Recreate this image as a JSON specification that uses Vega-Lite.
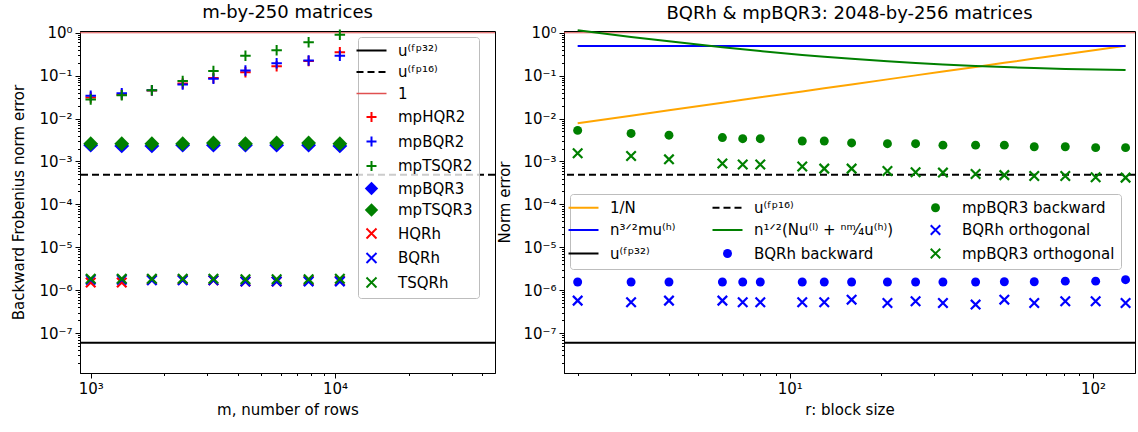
{
  "$schema": "https://vega.github.io/schema/vega-lite/v6.json",
  "padding": {"left": 11, "top": 3, "right": 0, "bottom": 0},
  "background": "white",
  "spacing": 0,
  "config": {
    "font": "DejaVu Sans",
    "view": {"stroke": "black", "strokeWidth": 1},
    "axis": {"grid": false, "domainColor": "black", "tickColor": "black", "labelColor": "black", "titleColor": "black", "labelFontSize": 15, "titleFontSize": 15, "titleFontWeight": "normal", "labelFont": "DejaVu Sans", "titleFont": "DejaVu Sans", "labelOverlap": false, "labelFlush": false, "labelBound": false, "labelPadding": 3, "domainWidth": 1, "tickWidth": 1},
    "title": {"fontSize": 18, "fontWeight": "normal", "font": "DejaVu Sans", "color": "black", "offset": 3},
    "legend": {"labelFont": "DejaVu Sans", "labelFontSize": 15, "labelColor": "black", "fillColor": "rgba(255,255,255,0.8)", "strokeColor": "#bdbdbd", "strokeWidth": 1, "padding": 6, "cornerRadius": 3, "symbolSize": 400, "labelOffset": 19, "gridAlign": "each"}
  },
  "datasets": {
    "leftRules": [{"series": "ufp32", "err": 5.96e-8}, {"series": "ufp16", "err": 4.88e-4}],
    "leftOne": [{"series": "one", "err": 1}],
    "leftPlus": [
      {"series": "mpHQR2", "m": 1000, "err": 0.031}, {"series": "mpHQR2", "m": 1340, "err": 0.036}, {"series": "mpHQR2", "m": 1780, "err": 0.045}, {"series": "mpHQR2", "m": 2380, "err": 0.066}, {"series": "mpHQR2", "m": 3180, "err": 0.088}, {"series": "mpHQR2", "m": 4300, "err": 0.12}, {"series": "mpHQR2", "m": 5770, "err": 0.165}, {"series": "mpHQR2", "m": 7800, "err": 0.22}, {"series": "mpHQR2", "m": 10470, "err": 0.35},
      {"series": "mpBQR2", "m": 1000, "err": 0.034}, {"series": "mpBQR2", "m": 1340, "err": 0.039}, {"series": "mpBQR2", "m": 1780, "err": 0.046}, {"series": "mpBQR2", "m": 2380, "err": 0.062}, {"series": "mpBQR2", "m": 3180, "err": 0.085}, {"series": "mpBQR2", "m": 4300, "err": 0.132}, {"series": "mpBQR2", "m": 5770, "err": 0.195}, {"series": "mpBQR2", "m": 7800, "err": 0.225}, {"series": "mpBQR2", "m": 10470, "err": 0.29},
      {"series": "mpTSQR2", "m": 1000, "err": 0.028}, {"series": "mpTSQR2", "m": 1340, "err": 0.035}, {"series": "mpTSQR2", "m": 1780, "err": 0.046}, {"series": "mpTSQR2", "m": 2380, "err": 0.075}, {"series": "mpTSQR2", "m": 3180, "err": 0.128}, {"series": "mpTSQR2", "m": 4300, "err": 0.29}, {"series": "mpTSQR2", "m": 5770, "err": 0.39}, {"series": "mpTSQR2", "m": 7800, "err": 0.6}, {"series": "mpTSQR2", "m": 10470, "err": 0.9}
    ],
    "leftDiamond": [
      {"series": "mpBQR3", "m": 1000, "err": 0.0024}, {"series": "mpBQR3", "m": 1340, "err": 0.0023}, {"series": "mpBQR3", "m": 1780, "err": 0.0023}, {"series": "mpBQR3", "m": 2380, "err": 0.0024}, {"series": "mpBQR3", "m": 3180, "err": 0.0024}, {"series": "mpBQR3", "m": 4300, "err": 0.0024}, {"series": "mpBQR3", "m": 5770, "err": 0.0024}, {"series": "mpBQR3", "m": 7800, "err": 0.0024}, {"series": "mpBQR3", "m": 10470, "err": 0.0023},
      {"series": "mpTSQR3", "m": 1000, "err": 0.0026}, {"series": "mpTSQR3", "m": 1340, "err": 0.0026}, {"series": "mpTSQR3", "m": 1780, "err": 0.0026}, {"series": "mpTSQR3", "m": 2380, "err": 0.0026}, {"series": "mpTSQR3", "m": 3180, "err": 0.0027}, {"series": "mpTSQR3", "m": 4300, "err": 0.0026}, {"series": "mpTSQR3", "m": 5770, "err": 0.0027}, {"series": "mpTSQR3", "m": 7800, "err": 0.0027}, {"series": "mpTSQR3", "m": 10470, "err": 0.0026}
    ],
    "leftX": [
      {"series": "HQRh", "m": 1000, "err": 1.5e-6}, {"series": "HQRh", "m": 1340, "err": 1.5e-6}, {"series": "HQRh", "m": 1780, "err": 1.75e-6}, {"series": "HQRh", "m": 2380, "err": 1.75e-6}, {"series": "HQRh", "m": 3180, "err": 1.7e-6}, {"series": "HQRh", "m": 4300, "err": 1.6e-6}, {"series": "HQRh", "m": 5770, "err": 1.6e-6}, {"series": "HQRh", "m": 7800, "err": 1.65e-6}, {"series": "HQRh", "m": 10470, "err": 1.65e-6},
      {"series": "BQRh", "m": 1000, "err": 1.75e-6}, {"series": "BQRh", "m": 1340, "err": 1.75e-6}, {"series": "BQRh", "m": 1780, "err": 1.7e-6}, {"series": "BQRh", "m": 2380, "err": 1.7e-6}, {"series": "BQRh", "m": 3180, "err": 1.7e-6}, {"series": "BQRh", "m": 4300, "err": 1.6e-6}, {"series": "BQRh", "m": 5770, "err": 1.6e-6}, {"series": "BQRh", "m": 7800, "err": 1.6e-6}, {"series": "BQRh", "m": 10470, "err": 1.6e-6},
      {"series": "TSQRh", "m": 1000, "err": 1.85e-6}, {"series": "TSQRh", "m": 1340, "err": 1.85e-6}, {"series": "TSQRh", "m": 1780, "err": 1.85e-6}, {"series": "TSQRh", "m": 2380, "err": 1.85e-6}, {"series": "TSQRh", "m": 3180, "err": 1.85e-6}, {"series": "TSQRh", "m": 4300, "err": 1.8e-6}, {"series": "TSQRh", "m": 5770, "err": 1.8e-6}, {"series": "TSQRh", "m": 7800, "err": 1.8e-6}, {"series": "TSQRh", "m": 10470, "err": 1.85e-6}
    ],
    "rightRules": [{"series": "ufp16", "v": 4.88e-4}, {"series": "ufp32", "v": 5.96e-8}],
    "rightOne": [{"v": 1}],
    "rightLines": [
      {"series": "invN", "r": 2, "v": 0.0078}, {"series": "invN", "r": 3, "v": 0.0117}, {"series": "invN", "r": 4, "v": 0.0156}, {"series": "invN", "r": 6, "v": 0.0234}, {"series": "invN", "r": 7, "v": 0.0273}, {"series": "invN", "r": 8, "v": 0.0313}, {"series": "invN", "r": 11, "v": 0.043}, {"series": "invN", "r": 13, "v": 0.0508}, {"series": "invN", "r": 16, "v": 0.0625}, {"series": "invN", "r": 21, "v": 0.082}, {"series": "invN", "r": 26, "v": 0.1016}, {"series": "invN", "r": 32, "v": 0.125}, {"series": "invN", "r": 41, "v": 0.16}, {"series": "invN", "r": 51, "v": 0.199}, {"series": "invN", "r": 64, "v": 0.25}, {"series": "invN", "r": 81, "v": 0.316}, {"series": "invN", "r": 102, "v": 0.398}, {"series": "invN", "r": 128, "v": 0.5},
      {"series": "n32mu", "r": 2, "v": 0.49}, {"series": "n32mu", "r": 128, "v": 0.49},
      {"series": "bound", "r": 2, "v": 1.143}, {"series": "bound", "r": 3, "v": 0.802}, {"series": "bound", "r": 4, "v": 0.631}, {"series": "bound", "r": 6, "v": 0.46}, {"series": "bound", "r": 7, "v": 0.412}, {"series": "bound", "r": 8, "v": 0.375}, {"series": "bound", "r": 11, "v": 0.305}, {"series": "bound", "r": 13, "v": 0.277}, {"series": "bound", "r": 16, "v": 0.247}, {"series": "bound", "r": 21, "v": 0.217}, {"series": "bound", "r": 26, "v": 0.198}, {"series": "bound", "r": 32, "v": 0.183}, {"series": "bound", "r": 41, "v": 0.169}, {"series": "bound", "r": 51, "v": 0.159}, {"series": "bound", "r": 64, "v": 0.151}, {"series": "bound", "r": 81, "v": 0.144}, {"series": "bound", "r": 102, "v": 0.139}, {"series": "bound", "r": 128, "v": 0.135}
    ],
    "rightCircles": [
      {"series": "BQRh backward", "r": 2, "v": 1.55e-6}, {"series": "BQRh backward", "r": 3, "v": 1.55e-6}, {"series": "BQRh backward", "r": 4, "v": 1.55e-6}, {"series": "BQRh backward", "r": 6, "v": 1.55e-6}, {"series": "BQRh backward", "r": 7, "v": 1.55e-6}, {"series": "BQRh backward", "r": 8, "v": 1.55e-6}, {"series": "BQRh backward", "r": 11, "v": 1.55e-6}, {"series": "BQRh backward", "r": 13, "v": 1.55e-6}, {"series": "BQRh backward", "r": 16, "v": 1.55e-6}, {"series": "BQRh backward", "r": 21, "v": 1.55e-6}, {"series": "BQRh backward", "r": 26, "v": 1.55e-6}, {"series": "BQRh backward", "r": 32, "v": 1.55e-6}, {"series": "BQRh backward", "r": 41, "v": 1.55e-6}, {"series": "BQRh backward", "r": 51, "v": 1.57e-6}, {"series": "BQRh backward", "r": 64, "v": 1.57e-6}, {"series": "BQRh backward", "r": 81, "v": 1.62e-6}, {"series": "BQRh backward", "r": 102, "v": 1.62e-6}, {"series": "BQRh backward", "r": 128, "v": 1.75e-6},
      {"series": "mpBQR3 backward", "r": 2, "v": 0.0053}, {"series": "mpBQR3 backward", "r": 3, "v": 0.0045}, {"series": "mpBQR3 backward", "r": 4, "v": 0.0041}, {"series": "mpBQR3 backward", "r": 6, "v": 0.0036}, {"series": "mpBQR3 backward", "r": 7, "v": 0.0034}, {"series": "mpBQR3 backward", "r": 8, "v": 0.0034}, {"series": "mpBQR3 backward", "r": 11, "v": 0.003}, {"series": "mpBQR3 backward", "r": 13, "v": 0.003}, {"series": "mpBQR3 backward", "r": 16, "v": 0.0027}, {"series": "mpBQR3 backward", "r": 21, "v": 0.0026}, {"series": "mpBQR3 backward", "r": 26, "v": 0.0026}, {"series": "mpBQR3 backward", "r": 32, "v": 0.0024}, {"series": "mpBQR3 backward", "r": 41, "v": 0.0024}, {"series": "mpBQR3 backward", "r": 51, "v": 0.0024}, {"series": "mpBQR3 backward", "r": 64, "v": 0.0022}, {"series": "mpBQR3 backward", "r": 81, "v": 0.0022}, {"series": "mpBQR3 backward", "r": 102, "v": 0.0021}, {"series": "mpBQR3 backward", "r": 128, "v": 0.0021}
    ],
    "rightX": [
      {"series": "BQRh orthogonal", "r": 2, "v": 5.7e-7}, {"series": "BQRh orthogonal", "r": 3, "v": 5.2e-7}, {"series": "BQRh orthogonal", "r": 4, "v": 5.7e-7}, {"series": "BQRh orthogonal", "r": 6, "v": 5.7e-7}, {"series": "BQRh orthogonal", "r": 7, "v": 5.2e-7}, {"series": "BQRh orthogonal", "r": 8, "v": 5.2e-7}, {"series": "BQRh orthogonal", "r": 11, "v": 5.2e-7}, {"series": "BQRh orthogonal", "r": 13, "v": 5.2e-7}, {"series": "BQRh orthogonal", "r": 16, "v": 6.0e-7}, {"series": "BQRh orthogonal", "r": 21, "v": 5.0e-7}, {"series": "BQRh orthogonal", "r": 26, "v": 5.5e-7}, {"series": "BQRh orthogonal", "r": 32, "v": 5.0e-7}, {"series": "BQRh orthogonal", "r": 41, "v": 4.6e-7}, {"series": "BQRh orthogonal", "r": 51, "v": 6.0e-7}, {"series": "BQRh orthogonal", "r": 64, "v": 5.0e-7}, {"series": "BQRh orthogonal", "r": 81, "v": 5.5e-7}, {"series": "BQRh orthogonal", "r": 102, "v": 5.5e-7}, {"series": "BQRh orthogonal", "r": 128, "v": 5.0e-7},
      {"series": "mpBQR3 orthogonal", "r": 2, "v": 0.00155}, {"series": "mpBQR3 orthogonal", "r": 3, "v": 0.00134}, {"series": "mpBQR3 orthogonal", "r": 4, "v": 0.00112}, {"series": "mpBQR3 orthogonal", "r": 6, "v": 0.0009}, {"series": "mpBQR3 orthogonal", "r": 7, "v": 0.00085}, {"series": "mpBQR3 orthogonal", "r": 8, "v": 0.00085}, {"series": "mpBQR3 orthogonal", "r": 11, "v": 0.00076}, {"series": "mpBQR3 orthogonal", "r": 13, "v": 0.00068}, {"series": "mpBQR3 orthogonal", "r": 16, "v": 0.00068}, {"series": "mpBQR3 orthogonal", "r": 21, "v": 0.0006}, {"series": "mpBQR3 orthogonal", "r": 26, "v": 0.00056}, {"series": "mpBQR3 orthogonal", "r": 32, "v": 0.00055}, {"series": "mpBQR3 orthogonal", "r": 41, "v": 0.00051}, {"series": "mpBQR3 orthogonal", "r": 51, "v": 0.00048}, {"series": "mpBQR3 orthogonal", "r": 64, "v": 0.00046}, {"series": "mpBQR3 orthogonal", "r": 81, "v": 0.00046}, {"series": "mpBQR3 orthogonal", "r": 102, "v": 0.00043}, {"series": "mpBQR3 orthogonal", "r": 128, "v": 0.00042}
    ]
  },
  "resolve": {"scale": {"color": "independent", "strokeDash": "independent", "x": "independent", "y": "independent"}, "legend": {"color": "independent"}},
  "hconcat": [
    {
      "width": 415,
      "height": 342,
      "title": {"text": "m-by-250 matrices"},
      "encoding": {
        "y": {"field": "err", "type": "quantitative", "scale": {"type": "log", "domain": [1.17e-8, 1.1], "nice": false},
          "axis": {"title": "Backward Frobenius norm error", "titlePadding": 12,
            "values": [2e-8,3e-8,4e-8,5e-8,6e-8,7e-8,8e-8,9e-8,1e-7,2e-7,3e-7,4e-7,5e-7,6e-7,7e-7,8e-7,9e-7,1e-6,2e-6,3e-6,4e-6,5e-6,6e-6,7e-6,8e-6,9e-6,1e-5,2e-5,3e-5,4e-5,5e-5,6e-5,7e-5,8e-5,9e-5,1e-4,2e-4,3e-4,4e-4,5e-4,6e-4,7e-4,8e-4,9e-4,1e-3,2e-3,3e-3,4e-3,5e-3,6e-3,7e-3,8e-3,9e-3,1e-2,2e-2,3e-2,4e-2,5e-2,6e-2,7e-2,8e-2,9e-2,0.1,0.2,0.3,0.4,0.5,0.6,0.7,0.8,0.9,1],
            "labelExpr": "abs(log(datum.value)/LN10 - round(log(datum.value)/LN10)) < 0.01 ? ({'0':'10⁰','-1':'10⁻¹','-2':'10⁻²','-3':'10⁻³','-4':'10⁻⁴','-5':'10⁻⁵','-6':'10⁻⁶','-7':'10⁻⁷'})['' + round(log(datum.value)/LN10)] : ''",
            "tickSize": {"condition": {"test": "abs(log(datum.value)/LN10 - round(log(datum.value)/LN10)) < 0.01", "value": 5}, "value": 2.5}}},
        "color": {"field": "series", "type": "nominal",
          "scale": {"domain": ["ufp32","ufp16","one","mpHQR2","mpBQR2","mpTSQR2","mpBQR3","mpTSQR3","HQRh","BQRh","TSQRh"], "range": ["#000000","#000000","#e05050","#ff0000","#0000ff","#008000","#0000ff","#008000","#ff0000","#0000ff","#008000"]},
          "legend": {"title": null, "orient": "none", "legendX": 278, "legendY": 6, "rowPadding": 5.5, "fillColor": "rgba(255,255,255,0.8)", "strokeColor": "#bdbdbd",
            "labelExpr": "({'ufp32':'u⁽ᶠᵖ³²⁾','ufp16':'u⁽ᶠᵖ¹⁶⁾','one':'1'})[datum.value] || datum.value",
            "encode": {"symbols": {"update": {
              "shape": {"signal": "indexof(['ufp32','ufp16','one'], datum.value) >= 0 ? 'stroke' : indexof(['mpHQR2','mpBQR2','mpTSQR2'], datum.value) >= 0 ? 'M-1,0L1,0M0,-1L0,1' : indexof(['mpBQR3','mpTSQR3'], datum.value) >= 0 ? 'diamond' : 'M-1,-1L1,1M1,-1L-1,1'"},
              "size": {"signal": "indexof(['ufp32','ufp16','one'], datum.value) >= 0 ? 900 : indexof(['mpBQR3','mpTSQR3'], datum.value) >= 0 ? 180 : 100"},
              "stroke": {"signal": "indexof(['ufp32','ufp16'], datum.value) >= 0 ? '#000000' : datum.value == 'one' ? '#f06060' : indexof(['mpHQR2','HQRh'], datum.value) >= 0 ? '#ff0000' : indexof(['mpBQR2','mpBQR3','BQRh'], datum.value) >= 0 ? '#0000ff' : '#008000'"},
              "fill": {"signal": "datum.value == 'mpBQR3' ? '#0000ff' : datum.value == 'mpTSQR3' ? '#008000' : 'transparent'"},
              "strokeWidth": {"signal": "datum.value == 'one' ? 1.5 : indexof(['mpBQR3','mpTSQR3'], datum.value) >= 0 ? 0 : 2"},
              "strokeDash": {"signal": "datum.value == 'ufp16' ? [7,4] : [1,0]"},
              "opacity": {"value": 1}
            }}}}}
      },
      "layer": [
        {"data": {"name": "leftRules"}, "mark": {"type": "rule", "strokeWidth": 2},
          "encoding": {"strokeDash": {"field": "series", "type": "nominal", "scale": {"domain": ["ufp32","ufp16"], "range": [[1,0],[7,4]]}, "legend": null}}},
        {"data": {"name": "leftOne"}, "mark": {"type": "rule", "strokeWidth": 1}, "encoding": {}},
        {"data": {"name": "leftPlus"}, "mark": {"type": "point", "shape": "M-1,0L1,0M0,-1L0,1", "filled": false, "size": 110, "strokeWidth": 2, "opacity": 1},
          "encoding": {"x": {"field": "m", "type": "quantitative", "scale": {"type": "log", "domain": [904, 45200], "nice": false},
            "axis": {"title": "m, number of rows", "titlePadding": 6, "values": [1000,2000,3000,4000,5000,6000,7000,8000,9000,10000,20000,30000,40000],
              "labelExpr": "datum.value == 1000 ? '10³' : datum.value == 10000 ? '10⁴' : ''",
              "tickSize": {"condition": {"test": "datum.value == 1000 || datum.value == 10000", "value": 5}, "value": 2.5}}}}},
        {"data": {"name": "leftDiamond"}, "mark": {"type": "point", "shape": "diamond", "filled": true, "size": 220, "opacity": 1},
          "encoding": {"x": {"field": "m", "type": "quantitative", "scale": {"type": "log", "domain": [904, 45200], "nice": false}}}},
        {"data": {"name": "leftX"}, "mark": {"type": "point", "shape": "M-1,-1L1,1M1,-1L-1,1", "filled": false, "size": 90, "strokeWidth": 2.2, "opacity": 1},
          "encoding": {"x": {"field": "m", "type": "quantitative", "scale": {"type": "log", "domain": [904, 45200], "nice": false}}}}
      ]
    },
    {
      "width": 571,
      "height": 342,
      "title": {"text": "BQRh & mpBQR3: 2048-by-256 matrices"},
      "encoding": {
        "y": {"field": "v", "type": "quantitative", "scale": {"type": "log", "domain": [1.17e-8, 1.1], "nice": false},
          "axis": {"title": "Norm error", "titlePadding": 10,
            "values": [2e-8,3e-8,4e-8,5e-8,6e-8,7e-8,8e-8,9e-8,1e-7,2e-7,3e-7,4e-7,5e-7,6e-7,7e-7,8e-7,9e-7,1e-6,2e-6,3e-6,4e-6,5e-6,6e-6,7e-6,8e-6,9e-6,1e-5,2e-5,3e-5,4e-5,5e-5,6e-5,7e-5,8e-5,9e-5,1e-4,2e-4,3e-4,4e-4,5e-4,6e-4,7e-4,8e-4,9e-4,1e-3,2e-3,3e-3,4e-3,5e-3,6e-3,7e-3,8e-3,9e-3,1e-2,2e-2,3e-2,4e-2,5e-2,6e-2,7e-2,8e-2,9e-2,0.1,0.2,0.3,0.4,0.5,0.6,0.7,0.8,0.9,1],
            "labelExpr": "abs(log(datum.value)/LN10 - round(log(datum.value)/LN10)) < 0.01 ? ({'0':'10⁰','-1':'10⁻¹','-2':'10⁻²','-3':'10⁻³','-4':'10⁻⁴','-5':'10⁻⁵','-6':'10⁻⁶','-7':'10⁻⁷'})['' + round(log(datum.value)/LN10)] : ''",
            "tickSize": {"condition": {"test": "abs(log(datum.value)/LN10 - round(log(datum.value)/LN10)) < 0.01", "value": 5}, "value": 2.5}}},
        "color": {"field": "series", "type": "nominal",
          "scale": {"domain": ["invN","n32mu","ufp32","ufp16","bound","BQRh backward","mpBQR3 backward","BQRh orthogonal","mpBQR3 orthogonal"], "range": ["#ffa500","#0000ff","#000000","#000000","#008000","#0000ff","#008000","#0000ff","#008000"]},
          "legend": {"title": null, "orient": "none", "legendX": 6, "legendY": 163, "columns": 3, "columnPadding": 32, "rowPadding": 4.5, "gridAlign": "each", "fillColor": "rgba(255,255,255,0.8)", "strokeColor": "#bdbdbd",
            "labelExpr": "({'invN':'1/N','ufp16':'u⁽ᶠᵖ¹⁶⁾','n32mu':'n³ᐟ²mu⁽ʰ⁾','bound':'n¹ᐟ²(Nu⁽ˡ⁾ + ⁿᵐ⁄₄u⁽ʰ⁾)\u00a0\u00a0','ufp32':'u⁽ᶠᵖ³²⁾'})[datum.value] || datum.value",
            "encode": {"symbols": {"update": {
              "shape": {"signal": "indexof(['mpBQR3 backward','BQRh backward'], datum.value) >= 0 ? 'circle' : indexof(['BQRh orthogonal','mpBQR3 orthogonal'], datum.value) >= 0 ? 'M-1,-1L1,1M1,-1L-1,1' : 'stroke'"},
              "size": {"signal": "indexof(['mpBQR3 backward','BQRh backward'], datum.value) >= 0 ? 80 : indexof(['BQRh orthogonal','mpBQR3 orthogonal'], datum.value) >= 0 ? 90 : 900"},
              "stroke": {"signal": "datum.value == 'invN' ? '#ffa500' : indexof(['ufp16','ufp32'], datum.value) >= 0 ? '#000000' : indexof(['n32mu','BQRh orthogonal','BQRh backward'], datum.value) >= 0 ? '#0000ff' : '#008000'"},
              "fill": {"signal": "datum.value == 'mpBQR3 backward' ? '#008000' : datum.value == 'BQRh backward' ? '#0000ff' : 'transparent'"},
              "strokeWidth": {"signal": "indexof(['mpBQR3 backward','BQRh backward'], datum.value) >= 0 ? 0 : 2"},
              "strokeDash": {"signal": "datum.value == 'ufp16' ? [7,4] : [1,0]"},
              "opacity": {"value": 1}
            }}}}}
      },
      "layer": [
        {"data": {"name": "rightOne"}, "mark": {"type": "rule", "strokeWidth": 1}, "encoding": {"color": {"value": "#e05050"}}},
        {"data": {"name": "rightRules"}, "mark": {"type": "rule", "strokeWidth": 2},
          "encoding": {"strokeDash": {"field": "series", "type": "nominal", "scale": {"domain": ["ufp16","ufp32"], "range": [[7,4],[1,0]]}, "legend": null}}},
        {"data": {"name": "rightLines"}, "mark": {"type": "line", "strokeWidth": 2},
          "encoding": {"x": {"field": "r", "type": "quantitative", "scale": {"type": "log", "domain": [1.803, 137.5], "nice": false},
            "axis": {"title": "r: block size", "titlePadding": 6, "values": [2,3,4,5,6,7,8,9,10,20,30,40,50,60,70,80,90,100],
              "labelExpr": "datum.value == 10 ? '10¹' : datum.value == 100 ? '10²' : ''",
              "tickSize": {"condition": {"test": "datum.value == 10 || datum.value == 100", "value": 5}, "value": 2.5}}}}},
        {"data": {"name": "rightCircles"}, "mark": {"type": "point", "shape": "circle", "filled": true, "size": 80, "opacity": 1},
          "encoding": {"x": {"field": "r", "type": "quantitative", "scale": {"type": "log", "domain": [1.803, 137.5], "nice": false}}}},
        {"data": {"name": "rightX"}, "mark": {"type": "point", "shape": "M-1,-1L1,1M1,-1L-1,1", "filled": false, "size": 90, "strokeWidth": 2.2, "opacity": 1},
          "encoding": {"x": {"field": "r", "type": "quantitative", "scale": {"type": "log", "domain": [1.803, 137.5], "nice": false}}}}
      ]
    }
  ]
}
